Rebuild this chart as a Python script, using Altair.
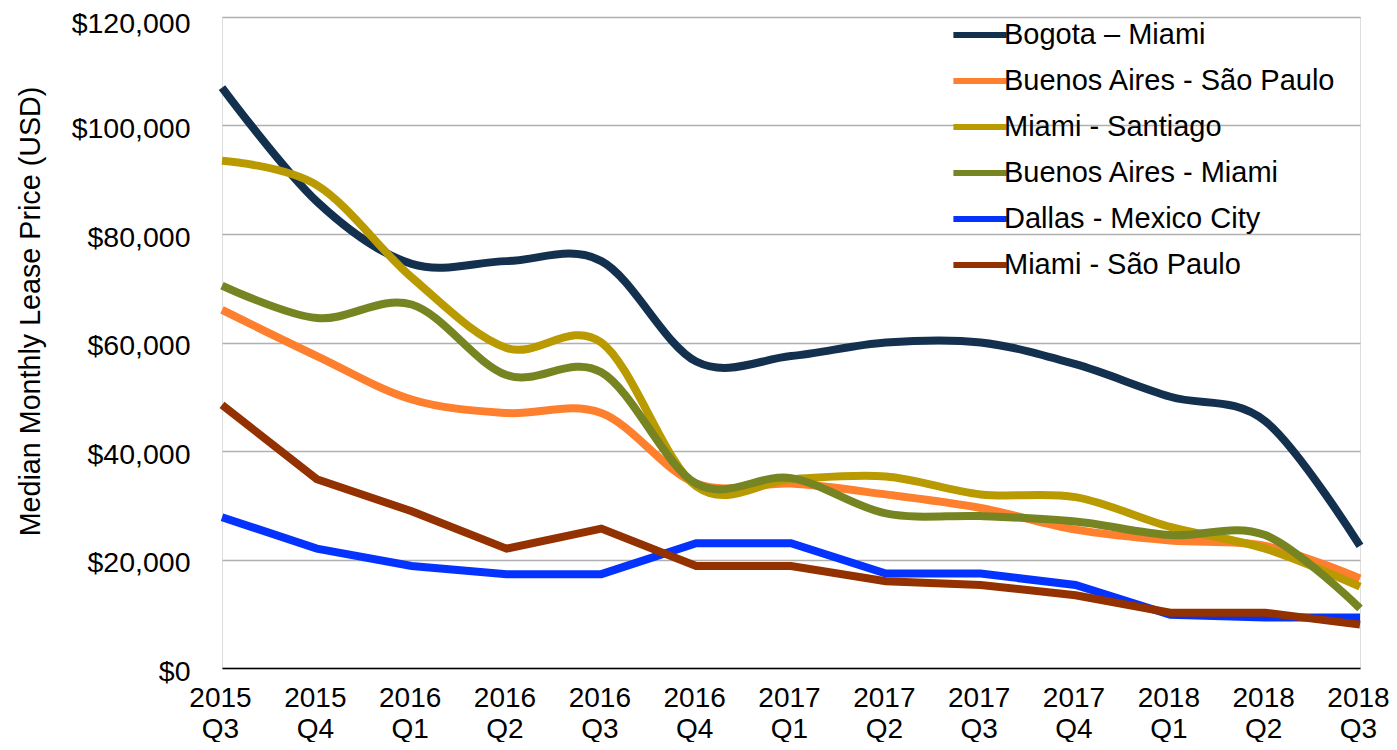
import altair as alt
import pandas as pd

categories = ["2015 Q3", "2015 Q4", "2016 Q1", "2016 Q2", "2016 Q3", "2016 Q4", "2017 Q1",
              "2017 Q2", "2017 Q3", "2017 Q4", "2018 Q1", "2018 Q2", "2018 Q3"]

series_names = ["Bogota – Miami", "Buenos Aires - São Paulo", "Miami - Santiago",
                "Buenos Aires - Miami", "Dallas - Mexico City", "Miami - São Paulo"]
colors = ["#14304f", "#fe7f2d", "#b99a00", "#778422", "#0433ff", "#933200"]

bogota_miami = [107000, 86000, 74500, 75000, 75000, 56500, 57500, 60000, 60000, 56000, 50000, 45500, 22500]
ba_sao_paulo = [66000, 57500, 49500, 47000, 47000, 34000, 34000, 32000, 29500, 25500, 23500, 22500, 16500]
miami_santiago = [93500, 89000, 72000, 59000, 60000, 33500, 34800, 35300, 32000, 31500, 26000, 22000, 15000]
ba_miami = [70500, 64500, 67000, 54000, 54500, 34000, 35000, 28500, 28000, 27000, 24500, 24500, 11000]
dallas_mexico = [27800, 22000, 18800, 17300, 17300, 23000, 23000, 17400, 17400, 15300, 9800, 9300, 9300]
miami_sao_paulo = [48500, 34800, 28900, 22000, 25700, 18800, 18800, 16000, 15300, 13400, 10200, 10200, 8000]

all_values = [bogota_miami, ba_sao_paulo, miami_santiago, ba_miami, dallas_mexico, miami_sao_paulo]

rows = []
for name, vals in zip(series_names, all_values):
    for q, v in zip(categories, vals):
        rows.append({"quarter": q, "route": name, "value": v})
df = pd.DataFrame(rows)

FONT = "Liberation Sans"

base = alt.Chart(df).encode(
    x=alt.X("quarter:O", sort=categories, scale=alt.Scale(padding=0),
            axis=alt.Axis(title=None, labelAngle=0, labelExpr="split(datum.label, ' ')",
                          labelFont=FONT, labelFontSize=28, labelColor="black",
                          labelLineHeight=31, ticks=False, labelPadding=16, labelOffset=-2,
                          domainColor="black", domainWidth=1.5, grid=False)),
    y=alt.Y("value:Q", scale=alt.Scale(domain=[0, 120000], nice=False),
            axis=alt.Axis(values=[0, 20000, 40000, 60000, 80000, 100000, 120000],
                          format="$,.0f", title="Median Monthly Lease Price (USD)",
                          labelFont=FONT, labelFontSize=28.5, labelColor="black",
                          labelPadding=32,
                          labelOffset={"condition": {"test": "datum.value == 120000", "value": 6},
                                       "value": 3},
                          ticks=False, domain=False,
                          gridColor="#b0b0b0", gridWidth=1.5,
                          titleFont=FONT, titleFontSize=28.7, titleFontWeight="normal",
                          titleColor="black", titleAngle=-90, titleAlign="center",
                          titleBaseline="middle", titleX=-192, titleY=294)),
    color=alt.Color("route:N", scale=alt.Scale(domain=series_names, range=colors),
                    legend=alt.Legend(title=None, orient="none", legendX=735, legendY=-5,
                                      symbolType="M-1.33,0L1.33,0", symbolSize=1600,
                                      symbolStrokeWidth=6, labelFont=FONT, labelFontSize=29,
                                      labelColor="black", labelOffset=1, rowPadding=8,
                                      padding=0, labelLimit=500)),
)

smooth = base.transform_filter(
    alt.FieldOneOfPredicate(field="route", oneOf=series_names[:4])
).mark_line(interpolate="cardinal", strokeWidth=8)

linear = base.transform_filter(
    alt.FieldOneOfPredicate(field="route", oneOf=series_names[4:])
).mark_line(interpolate="linear", strokeWidth=8)

chart = alt.layer(smooth, linear).properties(
    width=1138, height=651,
    autosize=alt.AutoSizeParams(type="none"),
    padding={"left": 214, "top": 9, "right": 29, "bottom": 74},
).configure_view(stroke=None).configure(background="white")

chart.save("out.html", embed_options={"renderer": "svg", "actions": False})
